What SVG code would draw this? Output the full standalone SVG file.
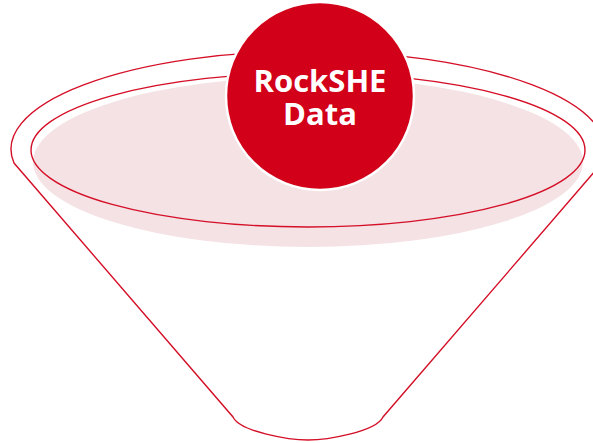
<svg xmlns="http://www.w3.org/2000/svg" width="593" height="443" viewBox="0 0 593 443">
<style>
.line{fill:none;stroke:#d40f27;stroke-width:1.4}
.lbl{font-family:"Open Sans","Noto Sans",sans-serif;font-weight:700;font-size:31px;fill:#ffffff;text-anchor:middle}
</style>
<rect width="593" height="443" fill="#ffffff"/>
<g id="funnel">
<path class="line" d="M14,163 A297,98 0 1,1 602,163 L383,417 C376,432 326,440 308,440 C290,440 240,432 233,417 Z"/>
<ellipse fill="#f5e2e4" cx="308" cy="162" rx="275" ry="85"/>
<ellipse class="line" cx="308" cy="150" rx="277" ry="77"/>
</g>
<g id="rockshe-data">
<circle cx="320" cy="96" r="94" fill="#d20019" stroke="#ffffff" stroke-width="2.5"/>
<text class="lbl" x="320" y="92">RockSHE<tspan x="320" dy="33">Data</tspan></text>
</g>
</svg>
